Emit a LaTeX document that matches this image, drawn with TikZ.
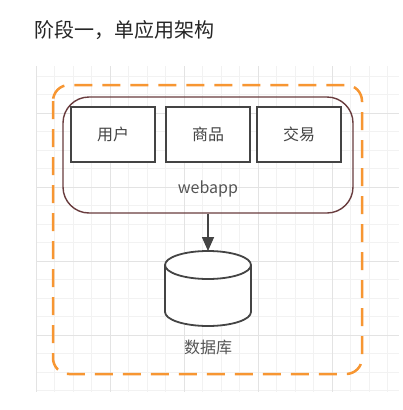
\documentclass[tikz,border=0pt]{standalone}
\usepackage{fontspec}
\usepackage{tikz}
\usetikzlibrary{calc,arrows.meta}
\newfontfamily\cjk{Noto Sans CJK SC}
\definecolor{dashorange}{RGB}{247,150,50}
\definecolor{boxgray}{RGB}{68,68,68}
\definecolor{appline}{RGB}{105,60,62}
\definecolor{textgray}{RGB}{85,85,85}
\tikzset{
	modbox/.style={draw=boxgray, line width=1.8pt, fill=white, minimum width=84pt, minimum height=55pt, font=\cjk\fontsize{16}{18}\selectfont, text=boxgray},
	appbox/.style={draw=appline, line width=1.4pt, rounded corners=26pt, minimum width=290pt, minimum height=116pt},
	lbl/.style={font=\cjk\fontsize{16}{18}\selectfont, text=textgray}
}

\begin{document}
\begin{tikzpicture}[x=1pt,y=-1pt]
	\useasboundingbox[fill=white] (0,0) rectangle (402,410);

	% background grid
	\begin{scope}
	\clip (36,66) rectangle (399,392);
	\foreach \k in {0,...,19}
		\draw[gray!10, line width=0.8pt] (36+18.5*\k,66) -- (36+18.5*\k,392);
	\foreach \k in {0,...,17}
		\draw[gray!10, line width=0.8pt] (36,76+18.5*\k) -- (399,76+18.5*\k);
	\foreach \k in {0,4,...,16}
		\draw[gray!22, line width=0.9pt] (36+18.5*\k,66) -- (36+18.5*\k,392);
	\foreach \k in {2,6,...,14}
		\draw[gray!22, line width=0.9pt] (36,76+18.5*\k) -- (399,76+18.5*\k);
	\end{scope}

	\node[anchor=west, font=\cjk\fontsize{20}{24}\selectfont, text=black!85] (title) at (31,30) {阶段一，单应用架构};

	\draw[dashorange, line width=2.5pt, rounded corners=16pt, dash pattern=on 18pt off 10pt] (53,85) rectangle (362,374);

	\node[appbox] (app) at (208,155) {};
	\node[modbox] (user) at (113,134.5) {用户};
	\node[modbox] (goods) at (208,134.5) {商品};
	\node[modbox] (trade) at (299,134.5) {交易};
	\node[lbl] (apptext) at (208,189) {webapp};

	% database
	\coordinate (dbtop) at (208,251);
	\draw[boxgray, line width=1.8pt, fill=white] (165,265) -- (165,312) arc[start angle=180, end angle=360, x radius=43, y radius=-14] -- (251,265);
	\draw[boxgray, line width=1.8pt, fill=white] (208,265) ellipse [x radius=43, y radius=14];
	\node[lbl] (dbtext) at (208,347) {数据库};

	\draw[boxgray, line width=1.6pt, -{Triangle[width=12pt,length=14pt]}] (app.south) -- (dbtop);
\end{tikzpicture}
\end{document}
